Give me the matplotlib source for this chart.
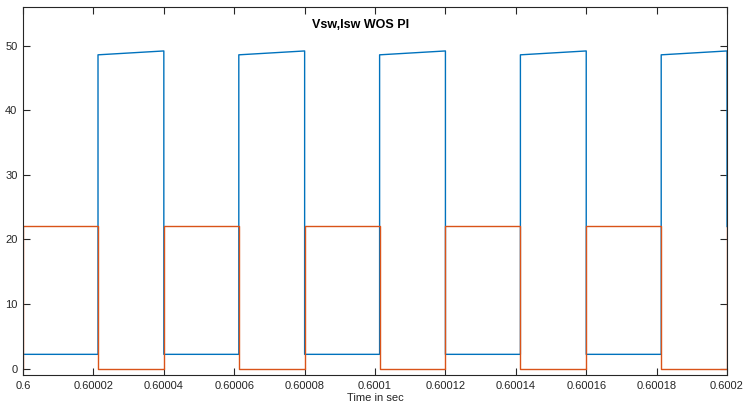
import numpy as np
import matplotlib.pyplot as plt

plt.rcParams['font.family'] = ['Liberation Sans', 'DejaVu Sans']

# switching instants (s): switch turns on at period start, off partway through
t_on = [0.6, 0.60004, 0.60008, 0.60012, 0.60016]
t_off = [0.6000213, 0.6000613, 0.6001013, 0.6001413, 0.6001813]
t_end = 0.6002

vsw_on = 2.2        # switch voltage while conducting
vsw_off_start = 48.6  # switch voltage right after turn-off
vsw_off_end = 49.2    # switch voltage just before turn-on
isw_on = 22.1       # switch current while conducting
isw_off = 0.0
v_last = 22.0       # value of both traces at the final sample

# build the step waveforms
t, vsw, isw = [t_on[0]], [vsw_off_end], [isw_off]
for k in range(len(t_on)):
    nxt = t_on[k + 1] if k + 1 < len(t_on) else t_end
    t += [t_on[k], t_off[k], t_off[k], nxt]
    vsw += [vsw_on, vsw_on, vsw_off_start, vsw_off_end]
    isw += [isw_on, isw_on, isw_off, isw_off]
t.append(t_end)
vsw.append(v_last)
isw.append(v_last)

fig = plt.figure(figsize=(7.43, 4.15), dpi=100)
ax = fig.add_axes([0.031, 0.0964, 0.9475, 0.8866])

ax.plot(t, vsw, color='#0072BD', lw=1.0)
ax.plot(t, isw, color='#D95319', lw=1.0)

ax.set_xlim(0.6, 0.6002)
ax.set_ylim(-1, 56)
xt = [0.6, 0.60002, 0.60004, 0.60006, 0.60008, 0.6001,
      0.60012, 0.60014, 0.60016, 0.60018, 0.6002]
ax.set_xticks(xt)
ax.set_xticklabels(['%g' % round(v, 5) for v in xt])
ax.set_yticks([0, 10, 20, 30, 40, 50])

ax.tick_params(direction='in', top=True, right=True, length=5, width=0.8,
               labelsize=8, colors='#262626', pad=4)
for s in ax.spines.values():
    s.set_linewidth(0.8)
    s.set_color('#262626')

ax.text(0.479, 0.95, 'Vsw,Isw WOS PI', transform=ax.transAxes,
        ha='center', va='center', fontsize=9, fontweight='bold', color='black')
ax.set_xlabel('Time in sec', fontsize=8, color='#262626', labelpad=2)

fig.savefig('out.png', dpi=100)
